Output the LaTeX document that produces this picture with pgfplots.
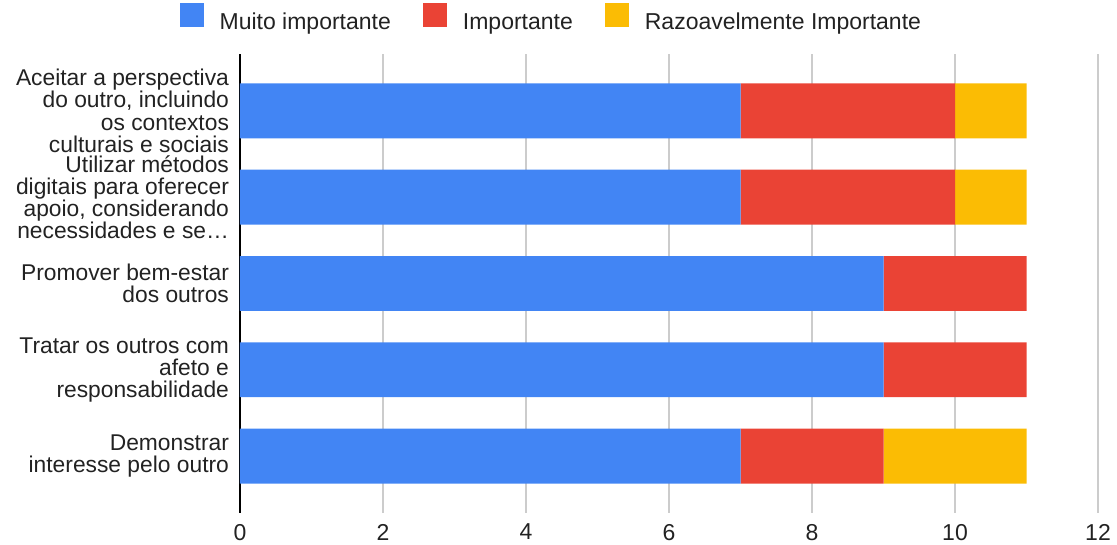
\documentclass[border=0pt]{standalone}
\usepackage{pgfplots}
\pgfplotsset{compat=1.18}
\usepackage{fontspec}
\setmainfont{Liberation Sans}
\definecolor{cblue}{HTML}{4285F4}
\definecolor{cred}{HTML}{EA4335}
\definecolor{cyellow}{HTML}{FBBC04}
\definecolor{cgrid}{HTML}{CCCCCC}
\definecolor{ctext}{HTML}{222222}
\begin{document}
\begin{tikzpicture}
\path[use as bounding box] (-120pt,-16pt) rectangle (438.5pt,256.5pt);
\begin{axis}[
  at={(0,0)}, anchor=south west,
  scale only axis, width=429pt, height=229.5pt,
  xbar stacked, bar width=0.637,
  xmin=0, xmax=12, ymin=-0.66, ymax=4.66,
  xtick={0,2,...,12}, ytick={0,1,2,3,4},
  yticklabels={
    {Demonstrar\\interesse pelo outro},
    {Tratar os outros com\\afeto e\\responsabilidade},
    {Promover bem-estar\\dos outros},
    {Utilizar métodos\\digitais para oferecer\\apoio, considerando\\necessidades e se…},
    {Aceitar a perspectiva\\do outro, incluindo\\os contextos\\culturais e sociais}},
  yticklabel style={align=right, font=\fontsize{11.4}{11.1}\selectfont, text=ctext, xshift=-2pt},
  xticklabel style={font=\fontsize{11.5}{13}\selectfont, text=ctext, yshift=-2pt},
  /pgf/number format/assume math mode=true,
  major tick length=0pt,
  axis lines*=left,
  x axis line style={draw=none},
  y axis line style={draw=black, line width=0.8pt},
  xmajorgrids,
  major grid style={draw=cgrid, line width=0.7pt},
  legend style={at={(0.364,1.074)}, anchor=center, draw=none, fill=none,
    legend columns=3, font=\fontsize{11.5}{13}\selectfont, text=ctext,
    /tikz/every odd column/.append style={column sep=6pt},
    /tikz/every even column/.append style={column sep=14pt},
    nodes={inner sep=2pt}},
  legend image code/.code={\draw[#1, draw=none] (0pt,-2pt) rectangle (12pt,10pt);},
]
\addplot[fill=cblue, draw=none] coordinates {(7,0) (9,1) (9,2) (7,3) (7,4)};
\addplot[fill=cred, draw=none] coordinates {(2,0) (2,1) (2,2) (3,3) (3,4)};
\addplot[fill=cyellow, draw=none] coordinates {(2,0) (0,1) (0,2) (1,3) (1,4)};
\legend{Muito importante, Importante, Razoavelmente Importante}
\end{axis}
\end{tikzpicture}
\end{document}
